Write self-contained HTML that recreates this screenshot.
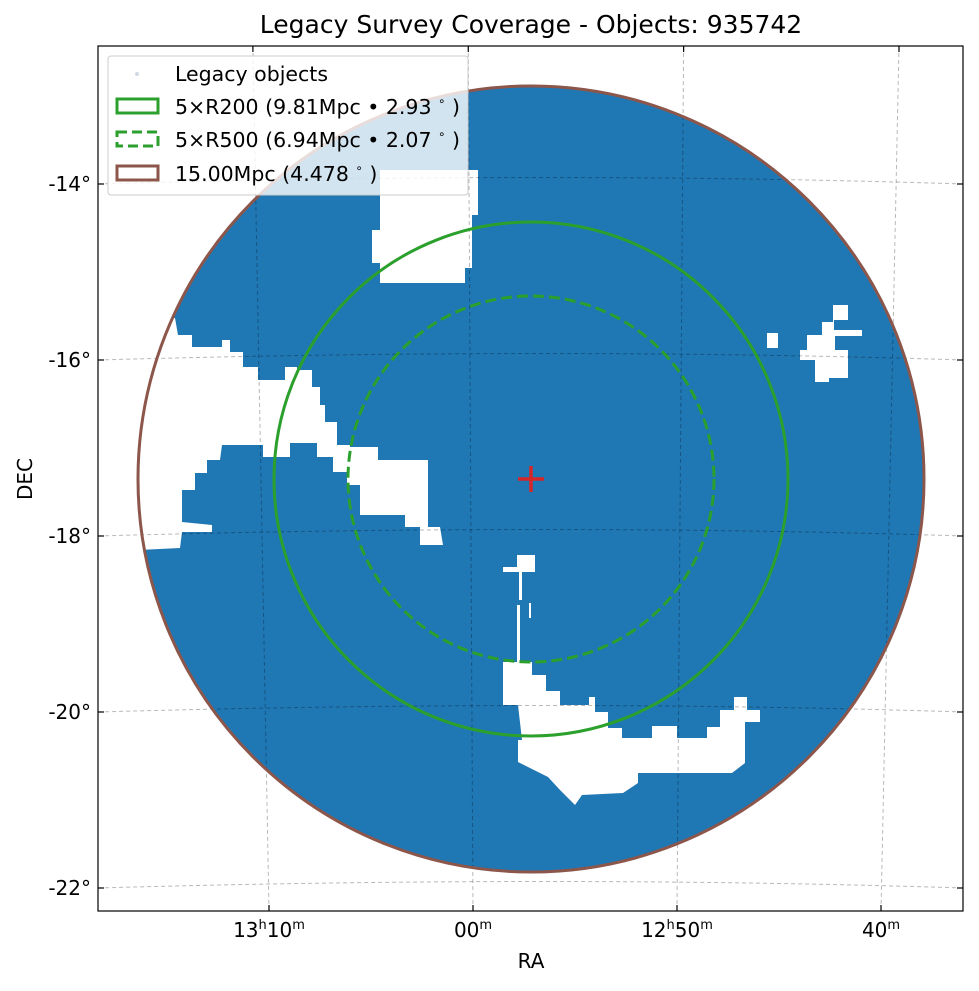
<!DOCTYPE html>
<html><head><meta charset="utf-8"><style>
body{margin:0;background:#fff}
svg text{font-family:"DejaVu Sans","Liberation Sans",sans-serif}
</style></head><body>
<svg width="979" height="986" viewBox="0 0 979 986" xmlns="http://www.w3.org/2000/svg">
<defs><clipPath id="disk"><circle cx="531" cy="479" r="393"/></clipPath>
<clipPath id="ax"><rect x="98" y="46" width="865" height="865"/></clipPath></defs>
<rect width="979" height="986" fill="#fff"/>
<g id="plot" clip-path="url(#ax)">
<circle cx="531" cy="479" r="393" fill="#1f77b4"/>
<g clip-path="url(#disk)" fill="#fff">
<polygon points="380,170 478,170 478,215 472,215 472,268 465,268 465,283 380,283 380,263 372,263 372,230 380,230"/>
<polygon points="100,318 175,318 178,335 192,335 192,347 222,347 222,340 230,340 230,352 243,352 243,367 258,367 258,380 285,380 285,367 297,367 297,370 312,370 312,387 320,387 320,405 325,405 325,422 337,422 337,445 350,445 350,447 378,447 378,460 428,460 428,527 440,527 443,545 420,545 420,527 405,527 405,515 360,515 360,485 347,485 347,472 333,472 333,457 317,457 317,443 290,443 290,457 263,457 263,445 222,445 220,460 207,460 207,473 195,473 195,490 182,490 182,522 212,525 212,532 182,532 180,548 100,552"/>
<polygon points="767,333 778,333 778,348 767,348"/>
<polygon points="800,350 807,350 807,335 822,335 822,322 833,322 833,305 848,305 848,320 834,320 834,330 862,330 862,336 835,336 835,350 848,350 848,378 829,378 829,382 815,382 815,360 800,360"/>
<polygon points="517,555 535,555 535,572 522,572 522,600 519,600 519,572 503,572 503,567 517,567"/>
<rect x="517" y="605" width="3" height="58"/>
<rect x="529" y="603" width="2" height="15"/>
<polygon points="503,662 532,662 532,675 546,675 546,691 560,691 560,705 589,705 589,697 595,697 595,712 608,712 608,728 622,728 622,738 652,738 652,726 677,726 677,738 707,738 707,727 720,727 720,710 734,710 734,697 747,697 747,710 760,710 760,722 745,722 745,763 732,773 638,773 638,783 623,793 582,795 575,805 560,790 548,777 518,762 518,740 522,740 518,705 503,705"/>
</g>
<g id="grid" fill="none" stroke="rgba(0,0,0,0.28)" stroke-width="1" stroke-dasharray="4,3"></g>
<circle cx="531" cy="479" r="393" fill="none" stroke="#8c564b" stroke-width="3"/>
<circle cx="531" cy="479" r="257" fill="none" stroke="#2ca02c" stroke-width="3"/>
<circle cx="531" cy="479" r="183" fill="none" stroke="#2ca02c" stroke-width="3" stroke-dasharray="11,5"/>
<g stroke="#d62728" stroke-width="3.5">
<line x1="518" y1="479" x2="544" y2="479"/><line x1="531" y1="466" x2="531" y2="492"/></g>
</g>
<rect x="98" y="46" width="865" height="865" fill="none" stroke="#000" stroke-width="1.2"/>
<g id="ticks" stroke="#000" stroke-width="1.2"></g>
<g id="labels" font-size="20" fill="#000"></g>
<text x="531" y="33" font-size="25" text-anchor="middle">Legacy Survey Coverage - Objects: 935742</text>
<text x="531" y="968" font-size="20" text-anchor="middle">RA</text>
<text transform="translate(32,479) rotate(-90)" font-size="20" text-anchor="middle">DEC</text>
<g font-size="20.5">
<rect x="108" y="56" width="360" height="139" rx="3" fill="rgba(255,255,255,0.8)" stroke="#ccc"/>
<circle cx="137" cy="74" r="2" fill="#cfd9e4"/>
<text x="175" y="81">Legacy objects</text>
<rect x="117" y="99" width="41" height="14" fill="none" stroke="#2ca02c" stroke-width="3"/>
<text x="175" y="114">5×R200 (9.81Mpc • 2.93 <tspan font-size="12" dy="-9">∘</tspan><tspan dy="9"> )</tspan></text>
<rect x="117" y="132" width="41" height="14" fill="none" stroke="#2ca02c" stroke-width="3" stroke-dasharray="10,5"/>
<text x="175" y="147">5×R500 (6.94Mpc • 2.07 <tspan font-size="12" dy="-9">∘</tspan><tspan dy="9"> )</tspan></text>
<rect x="117" y="166" width="41" height="14" fill="none" stroke="#8c564b" stroke-width="3"/>
<text x="175" y="181">15.00Mpc (4.478 <tspan font-size="12" dy="-9">∘</tspan><tspan dy="9"> )</tspan></text>
</g>
</svg>
<script>
const decValues=[-14,-16,-18,-20,-22];
const decLabels=["-14°","-16°","-18°","-20°","-22°"];
const raValues=[13+10/60,13,12+50/60,12+40/60];
const raLabels=[["13","h","10","m"],["","","00","m"],["12","h","50","m"],["","","40","m"]];
const ns="http://www.w3.org/2000/svg";
function yDec(d){return 536+(d+18)*(-88);}
function xRa(r){return 473+(13-r)*60*20.4;}
function mk(t,a,p){const e=document.createElementNS(ns,t);for(const k in a)e.setAttribute(k,a[k]);p.appendChild(e);return e;}
const grid=document.getElementById('grid'),ticks=document.getElementById('ticks'),labels=document.getElementById('labels');
decValues.forEach((d,i)=>{
  const y=yDec(d);
  const p=mk('path',{d:`M98,${y} Q558,${y-13} 963,${y}`},grid);
  
  
  const t1=mk('line',{x1:98,y1:y,x2:104,y2:y},ticks);
  
  
  const t2=mk('line',{x1:957,y1:y,x2:963,y2:y},ticks);
  
  
  const tx=mk('text',{x:91,y:y+7,'text-anchor':'end'},labels);tx.textContent=decLabels[i];
  
  
});
raValues.forEach((r,i)=>{
  const x=xRa(r);const xt=558+(x-558)*1.0557;
  const p=mk('line',{x1:xt,y1:46,x2:x,y2:911},grid);
  
  
  const t1=mk('line',{x1:x,y1:905,x2:x,y2:911},ticks);
  
  
  const t2=mk('line',{x1:xt,y1:46,x2:xt,y2:52},ticks);
  
  
  const L=raLabels[i];
  const tx=mk('text',{x:x,y:937,'text-anchor':'middle'},labels);
  
  
  let raised=false;
  [[L[0],0],[L[1],1],[L[2],0],[L[3],1]].forEach(([s,sup])=>{if(!s)return;const ts=mk('tspan',{},tx);ts.textContent=s;if(sup){ts.setAttribute('font-size','13');ts.setAttribute('dy','-8');raised=true;}else if(raised){ts.setAttribute('dy','8');raised=false;}});
});
</script>
</body></html>
